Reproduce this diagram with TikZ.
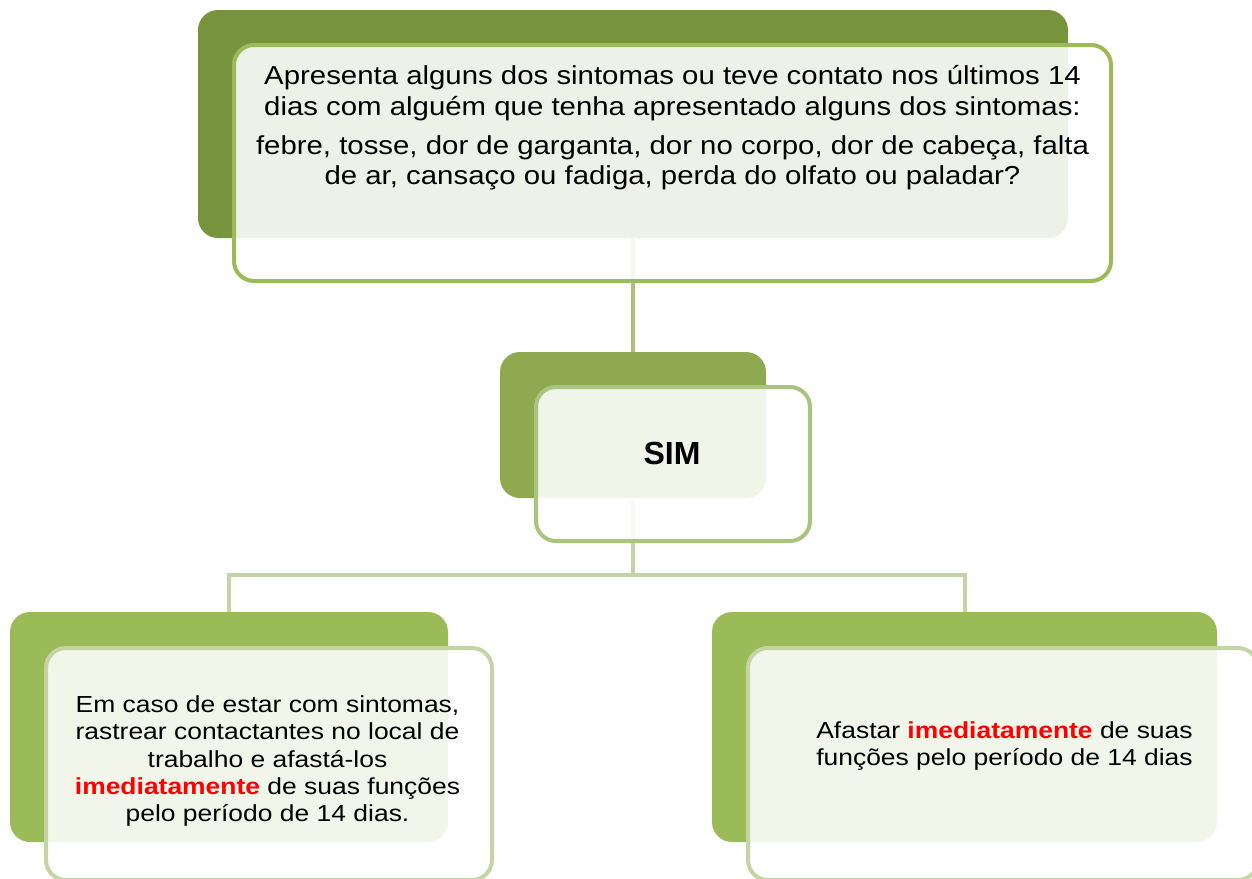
\documentclass[tikz,border=0pt]{standalone}
\usepackage{fontspec}
\setmainfont{Liberation Sans}
\newfontfamily\topfont{Liberation Sans}[FakeStretch=1.13]
\newfontfamily\lowfont{Liberation Sans}[FakeStretch=1.14]
\usetikzlibrary{positioning}

\definecolor{topback}{HTML}{77933C}
\definecolor{simback}{HTML}{8EA950}
\definecolor{lowback}{HTML}{9BBB59}
\definecolor{topline}{HTML}{9BBB59}
\definecolor{simline}{HTML}{A9C47F}
\definecolor{lowline}{HTML}{C3D5A4}
\definecolor{alarm}{HTML}{FF0000}

\begin{document}
\begin{tikzpicture}[x=0.5pt,y=-0.5pt,
  backbox/.style={rounded corners=10pt,inner sep=0pt},
  frontbox/.style={rounded corners=10pt,inner sep=0pt,line width=2pt,
    fill=white,fill opacity=0.88},
  link/.style={line width=2pt}
]
\clip (0,0) rectangle (1252,878);
\fill[white] (0,0) rectangle (1252,878);

% caixas de fundo
\node[backbox,fill=topback,minimum width=435pt,minimum height=114pt] (topback) at (633,124) {};
\node[backbox,fill=simback,minimum width=133pt,minimum height=73pt] (simback) at (633,425) {};
\node[backbox,fill=lowback,minimum width=219pt,minimum height=115pt] (leftback) at (229,727) {};
\node[backbox,fill=lowback,minimum width=252.5pt,minimum height=115pt] (rightback) at (964.5,727) {};

% ligacoes
\coordinate (hub) at (633,575);
\draw[link,simline] (topback.south) -- (simback.north);
\draw[link,lowline] (simback.south) -- (hub);
\draw[link,lowline] (leftback.north) |- (hub) -| (rightback.north);

% caixas da frente
\node[frontbox,draw=topline,minimum width=438.5pt,minimum height=118pt] (topfront) at (672.5,163) {};
\node[frontbox,draw=simline,minimum width=137pt,minimum height=77pt] (simfront) at (673,464) {};
\node[frontbox,draw=lowline,minimum width=223pt,minimum height=116pt] (leftfront) at (269,764) {};
\node[frontbox,draw=lowline,minimum width=255pt,minimum height=116pt] (rightfront) at (1003,764) {};

% textos
\node[align=center,font=\topfont\fontsize{13}{15.3}\selectfont] (question) at (672.5,128)
  {Apresenta alguns dos sintomas ou teve contato nos últimos 14\\
   dias com alguém que tenha apresentado alguns dos sintomas:\\[4.2pt]
   febre, tosse, dor de garganta, dor no corpo, dor de cabeça, falta\\
   de ar, cansaço ou fadiga, perda do olfato ou paladar?};
\node[font=\fontsize{16}{18}\selectfont\bfseries] (sim) at (672,453) {SIM};
\node[align=center,font=\lowfont\fontsize{11.6}{13.7}\selectfont] (lefttext) at (267.5,761)
  {Em caso de estar com sintomas,\\
   rastrear contactantes no local de\\
   trabalho e afastá-los\\
   {\color{alarm}\bfseries imediatamente} de suas funções\\
   pelo período de 14 dias.};
\node[align=center,font=\lowfont\fontsize{11.6}{13.7}\selectfont] (righttext) at (1004.5,746)
  {Afastar {\color{alarm}\bfseries imediatamente} de suas\\
   funções pelo período de 14 dias};
\end{tikzpicture}
\end{document}
